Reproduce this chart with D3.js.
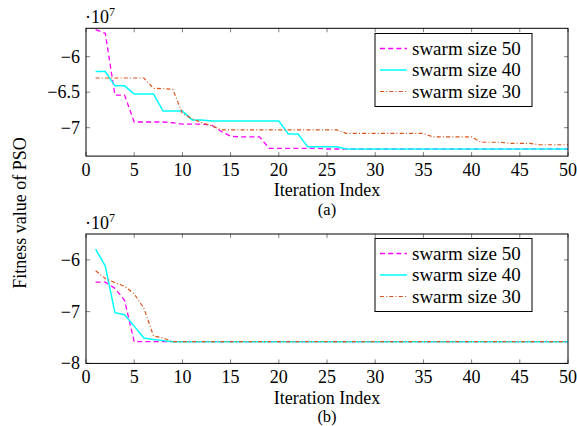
<!DOCTYPE html>
<meta charset="utf-8">
<title>PSO fitness vs iteration</title>
<style>
body { margin: 0; background: #fff; }
svg { display: block; }
.tick line { stroke: #808080; }
.frame { fill: none; stroke: #000; stroke-width: 1; }
</style>
<script src="https://d3js.org/d3.v7.min.js"></script>
<body>
<script>
var width = 577, height = 426;
var serif = "'Liberation Serif', 'Times New Roman', 'DejaVu Serif', serif";

// iteration index 1..50
var iterations = [1,2,3,4,5,6,7,8,9,10,11,12,13,14,15,16,17,18,19,20,21,22,23,24,25,
  26,27,28,29,30,31,32,33,34,35,36,37,38,39,40,41,42,43,44,45,46,47,48,49,50];

// (a) fitness values, x 1e7
var a50 = [-5.62,-5.67,-6.54,-6.54,-6.92,-6.92,-6.92,-6.92,-6.93,-6.95,-6.95,-6.95,-6.96,-7.05,-7.12,
  -7.13,-7.13,-7.13,-7.29,-7.29,-7.29,-7.29,-7.29,-7.29,-7.30,-7.30,-7.30,-7.30,-7.30,-7.30,
  -7.30,-7.30,-7.30,-7.30,-7.30,-7.30,-7.30,-7.30,-7.30,-7.30,-7.30,-7.30,-7.30,-7.30,-7.30,
  -7.30,-7.30,-7.30,-7.30,-7.30];
var a40 = [-6.21,-6.21,-6.41,-6.41,-6.525,-6.525,-6.525,-6.765,-6.765,-6.765,-6.89,-6.89,-6.905,-6.905,-6.905,
  -6.905,-6.905,-6.905,-6.905,-6.905,-7.09,-7.09,-7.27,-7.27,-7.27,-7.27,-7.30,-7.30,-7.30,-7.30,
  -7.30,-7.30,-7.30,-7.30,-7.30,-7.30,-7.30,-7.30,-7.30,-7.30,-7.30,-7.30,-7.30,-7.30,-7.30,
  -7.30,-7.30,-7.30,-7.30,-7.30];
var a30 = [-6.30,-6.30,-6.30,-6.30,-6.30,-6.30,-6.445,-6.45,-6.46,-6.80,-6.87,-6.93,-6.97,-7.03,-7.03,
  -7.03,-7.03,-7.03,-7.03,-7.03,-7.03,-7.03,-7.03,-7.03,-7.03,-7.03,-7.08,-7.08,-7.08,-7.08,
  -7.08,-7.08,-7.08,-7.08,-7.08,-7.13,-7.13,-7.13,-7.13,-7.13,-7.205,-7.205,-7.205,-7.22,-7.22,
  -7.22,-7.24,-7.24,-7.24,-7.24];

// (b) fitness values, x 1e7
var b50 = [-6.43,-6.43,-6.55,-6.78,-7.58,-7.58,-7.58,-7.58,-7.58,-7.58,-7.58,-7.58,-7.58,-7.58,-7.58,
  -7.58,-7.58,-7.58,-7.58,-7.58,-7.58,-7.58,-7.58,-7.58,-7.58,-7.58,-7.58,-7.58,-7.58,-7.58,
  -7.58,-7.58,-7.58,-7.58,-7.58,-7.58,-7.58,-7.58,-7.58,-7.58,-7.58,-7.58,-7.58,-7.58,-7.58,
  -7.58,-7.58,-7.58,-7.58,-7.58];
var b40 = [-5.79,-6.12,-7.02,-7.06,-7.28,-7.51,-7.54,-7.56,-7.58,-7.58,-7.58,-7.58,-7.58,-7.58,-7.58,
  -7.58,-7.58,-7.58,-7.58,-7.58,-7.58,-7.58,-7.58,-7.58,-7.58,-7.58,-7.58,-7.58,-7.58,-7.58,
  -7.58,-7.58,-7.58,-7.58,-7.58,-7.58,-7.58,-7.58,-7.58,-7.58,-7.58,-7.58,-7.58,-7.58,-7.58,
  -7.58,-7.58,-7.58,-7.58,-7.58];
var b30 = [-6.21,-6.36,-6.44,-6.51,-6.66,-6.93,-7.47,-7.51,-7.58,-7.58,-7.58,-7.58,-7.58,-7.58,-7.58,
  -7.58,-7.58,-7.58,-7.58,-7.58,-7.58,-7.58,-7.58,-7.58,-7.58,-7.58,-7.58,-7.58,-7.58,-7.58,
  -7.58,-7.58,-7.58,-7.58,-7.58,-7.58,-7.58,-7.58,-7.58,-7.58,-7.58,-7.58,-7.58,-7.58,-7.58,
  -7.58,-7.58,-7.58,-7.58,-7.58];

var legendNames = ["swarm size 50", "swarm size 40", "swarm size 30"];
var xTicks = [0,5,10,15,20,25,30,35,40,45,50];
var aTicks = [-6, -6.5, -7];
var bTicks = [-6, -7, -8];

var styles = [
  {color: "#ff00ff", dash: "5,3.2", w: 1.3},
  {color: "#00ffff", dash: null, w: 1.5},
  {color: "#d95319", dash: "4,2.2,1,2.2", w: 1.2}
];

var svg = d3.select("body").append("svg")
    .attr("width", width)
    .attr("height", height)
    .attr("font-family", serif)
    .style("font-family", serif);

var fmt = function(d) { return String(d).replace("-", "\u2212"); };

function panel(opts) {
  var x = d3.scaleLinear().domain([0, 50]).range([86, 568]);
  var y = d3.scaleLinear().domain(opts.domain).range([opts.bottom, opts.top]);
  var g = svg.append("g");

  var cid = "clip" + opts.name;
  svg.append("clipPath").attr("id", cid).append("rect")
    .attr("x", 86).attr("y", opts.top).attr("width", 482).attr("height", opts.bottom - opts.top);

  // ticks inside on all four sides
  var tl = 4;
  g.append("g").attr("class", "tick")
    .selectAll("line").data(xTicks).enter().append("line")
    .attr("x1", x).attr("x2", x).attr("y1", opts.bottom).attr("y2", opts.bottom - tl);
  g.append("g").attr("class", "tick")
    .selectAll("line").data(xTicks).enter().append("line")
    .attr("x1", x).attr("x2", x).attr("y1", opts.top).attr("y2", opts.top + tl);
  g.append("g").attr("class", "tick")
    .selectAll("line").data(opts.ticks).enter().append("line")
    .attr("x1", 86).attr("x2", 86 + tl).attr("y1", y).attr("y2", y);
  g.append("g").attr("class", "tick")
    .selectAll("line").data(opts.ticks).enter().append("line")
    .attr("x1", 568).attr("x2", 568 - tl).attr("y1", y).attr("y2", y);

  // tick labels
  g.selectAll("text.xl").data(xTicks).enter().append("text")
    .attr("class", "xl")
    .attr("x", x).attr("y", opts.bottom + 20)
    .attr("text-anchor", "middle").style("font-size", "18px")
    .text(function(d) { return d; });
  g.selectAll("text.yl").data(opts.ticks).enter().append("text")
    .attr("class", "yl")
    .attr("x", 80).attr("y", function(d) { return y(d) + 6; })
    .attr("text-anchor", "end").style("font-size", "18px")
    .text(fmt);

  // multiplier
  var m = g.append("text").attr("x", 85).attr("y", opts.top - 5).style("font-size", "18px");
  m.append("tspan").text("\u00b710");
  m.append("tspan").attr("dy", -7).style("font-size", "12px").text("7");

  // lines
  var line = d3.line()
    .x(function(d, i) { return x(iterations[i]); })
    .y(function(d) { return y(d); });
  var lines = g.append("g").attr("clip-path", "url(#" + cid + ")");
  opts.series.forEach(function(s, k) {
    lines.append("path")
      .attr("d", line(s))
      .attr("fill", "none")
      .attr("stroke", styles[k].color)
      .attr("stroke-width", styles[k].w)
      .attr("stroke-dasharray", styles[k].dash);
  });

  // frame
  g.append("rect").attr("class", "frame")
    .attr("x", 86).attr("y", opts.top).attr("width", 482).attr("height", opts.bottom - opts.top);

  // legend
  var lg = g.append("g");
  lg.append("rect")
    .attr("x", 375).attr("y", opts.legTop).attr("width", 157).attr("height", 73)
    .attr("fill", "#fff").attr("stroke", "#000").attr("stroke-width", 1);
  legendNames.forEach(function(n, k) {
    var ly = opts.legTop + 15 + k * 21.5;
    lg.append("line")
      .attr("x1", 380).attr("x2", 407).attr("y1", ly).attr("y2", ly)
      .attr("stroke", styles[k].color)
      .attr("stroke-width", styles[k].w)
      .attr("stroke-dasharray", styles[k].dash);
    lg.append("text")
      .attr("x", 412).attr("y", ly + 6)
      .style("font-size", "19px")
      .text(n);
  });

  // axis label and caption
  g.append("text").attr("x", 327).attr("y", opts.bottom + 40.3)
    .attr("text-anchor", "middle").style("font-size", "18px").text("Iteration Index");
  g.append("text").attr("x", 327).attr("y", opts.bottom + 59)
    .attr("text-anchor", "middle").style("font-size", "16.5px").text(opts.caption);
}

panel({name: "a", domain: [-7.4, -5.6], top: 28.3, bottom: 156.1, ticks: aTicks,
  series: [a50, a40, a30], legTop: 33.5, caption: "(a)"});
panel({name: "b", domain: [-8, -5.5], top: 234, bottom: 363.4, ticks: bTicks,
  series: [b50, b40, b30], legTop: 238.5, caption: "(b)"});

svg.append("text")
  .attr("transform", "translate(26,213) rotate(-90)")
  .attr("text-anchor", "middle")
  .style("font-size", "18px")
  .text("Fitness value of PSO");
</script>
</body>
